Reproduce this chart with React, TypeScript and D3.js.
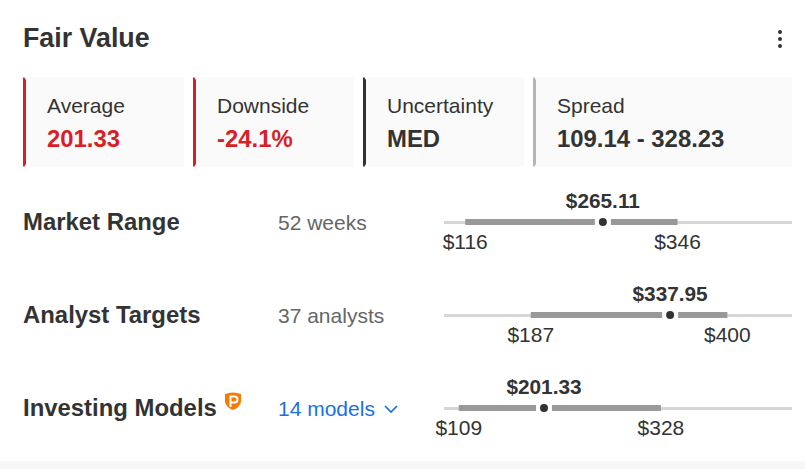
import React from "react";
import * as d3 from "d3";

const title = "Fair Value";
const cardLabels = ["Average", "Downside", "Uncertainty", "Spread"];
const cardValues = ["201.33", "-24.1%", "MED", "109.14 - 328.23"];
const cardAccents = ["#d91e26", "#d91e26", "#333333", "#b5b5b5"];
const cardValueColors = ["#d91e26", "#d91e26", "#333333", "#333333"];
const cardLefts = [23, 193, 363, 533];
const cardRights = [184, 354, 524, 792];

const rowNames = ["Market Range", "Analyst Targets", "Investing Models"];
const rowSubs = ["52 weeks", "37 analysts", "14 models"];
const rowLows = [116, 187, 109];
const rowHighs = [346, 400, 328];
const rowCurrents = [265.11, 337.95, 201.33];
const rowYs = [222, 315, 408];
const domain: [number, number] = [93, 470];

const FONT = "'Liberation Sans', Arial, sans-serif";
const INK = "#333333";
const BLUE = "#1a6fe8";

function accentPath(x: number, y0: number, y1: number, w: number) {
  return `M${x},${y0 + 1} L${x + 1},${y0} L${x + w},${y0 + 3} L${x + w},${y1 - 3} L${x + 1},${y1} L${x},${y1 - 1} Z`;
}

export default function App() {
  const x = d3.scaleLinear().domain(domain).range([444, 792]);
  return (
    <svg
      width={805}
      height={469}
      viewBox="0 0 805 469"
      style={{ position: "absolute", left: 0, top: 0, fontFamily: FONT }}
    >
      <rect width={805} height={469} fill="#ffffff" />
      <rect y={461} width={805} height={8} fill="#f7f7f7" />
      <text x={23} y={47} fontSize={26.8} fontWeight={700} fill={INK}>{title}</text>
      {[32, 39, 46].map((cy) => (
        <circle key={cy} cx={780} cy={cy} r={2} fill={INK} />
      ))}

      {cardLabels.map((label, i) => (
        <g key={label}>
          <rect x={cardLefts[i]} y={77} width={cardRights[i] - cardLefts[i]} height={90} fill="#fafafa" />
          <path d={accentPath(cardLefts[i], 77, 167, 3)} fill={cardAccents[i]} />
          <text x={cardLefts[i] + 24} y={113} fontSize={21} fill={INK}>{label}</text>
          <text x={cardLefts[i] + 24} y={147} fontSize={23.9} fontWeight={700} fill={cardValueColors[i]}>{cardValues[i]}</text>
        </g>
      ))}

      {rowNames.map((name, i) => {
        const y = rowYs[i];
        const cx = x(rowCurrents[i]);
        return (
          <g key={name}>
            <text x={23} y={y + 8} fontSize={23.9} fontWeight={700} fill={INK}>{name}</text>
            <text x={278} y={y + 8} fontSize={21} fill={i === 2 ? BLUE : "#666666"}>{rowSubs[i]}</text>
            <line x1={x.range()[0]} x2={x.range()[1]} y1={y + 0.5} y2={y + 0.5} stroke="#d6d6d6" strokeWidth={3} />
            <rect x={x(rowLows[i])} y={y - 3} width={x(rowHighs[i]) - x(rowLows[i])} height={6} fill="#999999" />
            <rect x={cx - 8} y={y - 3.5} width={16} height={7} fill="#ffffff" />
            <circle cx={cx} cy={y} r={4} fill={INK} />
            <text x={cx} y={y - 14} textAnchor="middle" fontSize={20.8} fontWeight={700} fill={INK}>{`$${rowCurrents[i]}`}</text>
            <text x={x(rowLows[i])} y={y + 27} textAnchor="middle" fontSize={21} fill={INK}>{`$${rowLows[i]}`}</text>
            <text x={x(rowHighs[i])} y={y + 27} textAnchor="middle" fontSize={21} fill={INK}>{`$${rowHighs[i]}`}</text>
          </g>
        );
      })}

      <path d="M385,406 L391,412 L397,406" fill="none" stroke={BLUE} strokeWidth={1.7} />
      <path d="M225,394 Q233,391 241,394 L241,402 Q240,407 233,410 Q226,407 225,402 Z" fill="#f57c00" />
      <path d="M230.5,407 V396.5 H234.5 A3,3 0 0 1 234.5,402.5 H231" fill="none" stroke="#ffffff" strokeWidth={2} />
    </svg>
  );
}
